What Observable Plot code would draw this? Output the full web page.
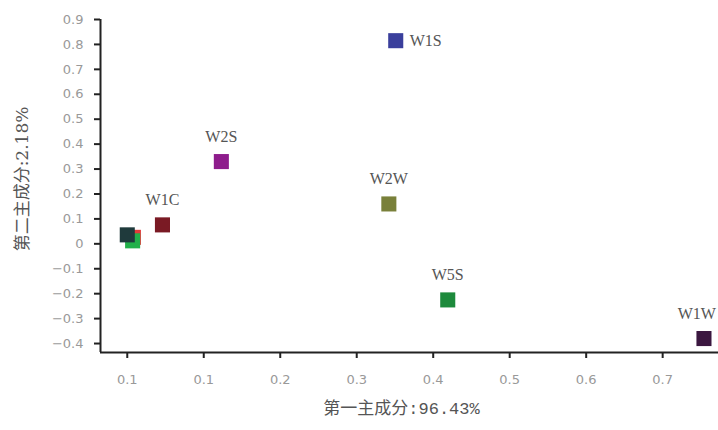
<!DOCTYPE html>
<html>
<head>
<meta charset="utf-8">
<script src="https://cdn.jsdelivr.net/npm/d3@7"></script>
<script src="https://cdn.jsdelivr.net/npm/@observablehq/plot@0.6"></script>
<style>
  body { margin: 0; background: #fff; }
  #chart svg { overflow: visible; }
</style>
</head>
<body>
<div id="chart"></div>
<script>
// Data
const ids    = ["W1S", "W2S", "W1C", "W2W", "W5S", "W1W", "R", "G", "D"];
const labels = ["W1S", "W2S", "W1C", "W2W", "W5S", "W1W", "", "", ""];
const pc1    = [0.351, 0.123, 0.046, 0.342, 0.419, 0.754, 0.008, 0.007, 0.000];
const pc2    = [0.815, 0.330, 0.076, 0.160, -0.225, -0.380, 0.026, 0.012, 0.036];
const colors = ["#3a3f9c", "#8e1c8c", "#7a1a24", "#79803a", "#1d8a3c", "#3b1740", "#e23a3a", "#22b04a", "#1f3a3c"];

const xTicks = [0, 0.1, 0.2, 0.3, 0.4, 0.5, 0.6, 0.7];
const xTickLabels = ["0.1", "0.1", "0.2", "0.3", "0.4", "0.5", "0.6", "0.7"];
const yTicks = [0.9, 0.8, 0.7, 0.6, 0.5, 0.4, 0.3, 0.2, 0.1, 0, -0.1, -0.2, -0.3, -0.4];
const yTickLabels = ["0.9", "0.8", "0.7", "0.6", "0.5", "0.4", "0.3", "0.2", "0.1", "0", "\u22120.1", "\u22120.2", "\u22120.3", "\u22120.4"];

const xTitle = "第一主成分:96.43%";
const yTitle = "第二主成分:2.18%";

const data = ids.map((id, i) => ({id, label: labels[i], x: pc1[i], y: pc2[i]}));
const labeled = data.filter(d => d.label !== "");
const xLabelMap = new Map(xTicks.map((t, i) => [t, xTickLabels[i]]));
const yLabelMap = new Map(yTicks.map((t, i) => [t, yTickLabels[i]]));

const xMin = -0.035, xMax = 0.773, yMin = -0.436, yMax = 0.9;
const labelFont = "'Liberation Serif', 'DejaVu Serif', serif";

const chart = Plot.plot({
  width: 718,
  height: 430,
  marginLeft: 100,
  marginRight: 0,
  marginTop: 19,
  marginBottom: 78,
  style: {fontFamily: "'DejaVu Sans', sans-serif", background: "#fff"},
  x: {domain: [xMin, xMax]},
  y: {domain: [yMin, yMax]},
  color: {domain: ids, range: colors},
  marks: [
    Plot.axisX({ticks: xTicks, tickFormat: d => xLabelMap.get(d), tickSize: 6, tickPadding: 16,
      label: null, stroke: "#222", strokeWidth: 2, fill: "#999", fontSize: 13}),
    Plot.axisY({ticks: yTicks, tickFormat: d => yLabelMap.get(d), tickSize: 6, tickPadding: 11,
      label: null, stroke: "#222", strokeWidth: 2, fill: "#999", fontSize: 13}),
    Plot.ruleX([xMin], {y1: yMin, y2: yMax, stroke: "#222", strokeWidth: 2}),
    Plot.ruleY([yMin], {x1: xMin, x2: xMax, stroke: "#222", strokeWidth: 2}),
    Plot.dot(data, {x: "x", y: "y", fill: "id", symbol: "square", r: 8.5}),
    Plot.text(labeled.filter(d => d.id === "W1S"), {x: "x", y: "y", text: "label", textAnchor: "start", dx: 14,
      fontFamily: labelFont, fontSize: 16, fill: "#555"}),
    Plot.text(labeled.filter(d => d.id !== "W1S" && d.id !== "W1W"), {x: "x", y: "y", text: "label", dy: -25,
      fontFamily: labelFont, fontSize: 16, fill: "#555"}),
    Plot.text(labeled.filter(d => d.id === "W1W"), {x: "x", y: "y", text: "label", dy: -25, dx: 12, textAnchor: "end",
      fontFamily: labelFont, fontSize: 16, fill: "#555"}),
    Plot.text([xTitle], {frameAnchor: "bottom", textAnchor: "middle", dx: -8, dy: 56, lineAnchor: "middle",
      fontFamily: "'Liberation Mono', 'Noto Sans CJK SC', sans-serif", fontSize: 17, fill: "#555"}),
    Plot.text([yTitle], {frameAnchor: "left", textAnchor: "middle", dx: -78, dy: -7, rotate: -90, lineAnchor: "middle",
      fontFamily: "'DejaVu Serif', 'Noto Sans CJK SC', serif", fontSize: 17, fill: "#555"})
  ]
});
document.getElementById("chart").appendChild(chart);
</script>
</body>
</html>
